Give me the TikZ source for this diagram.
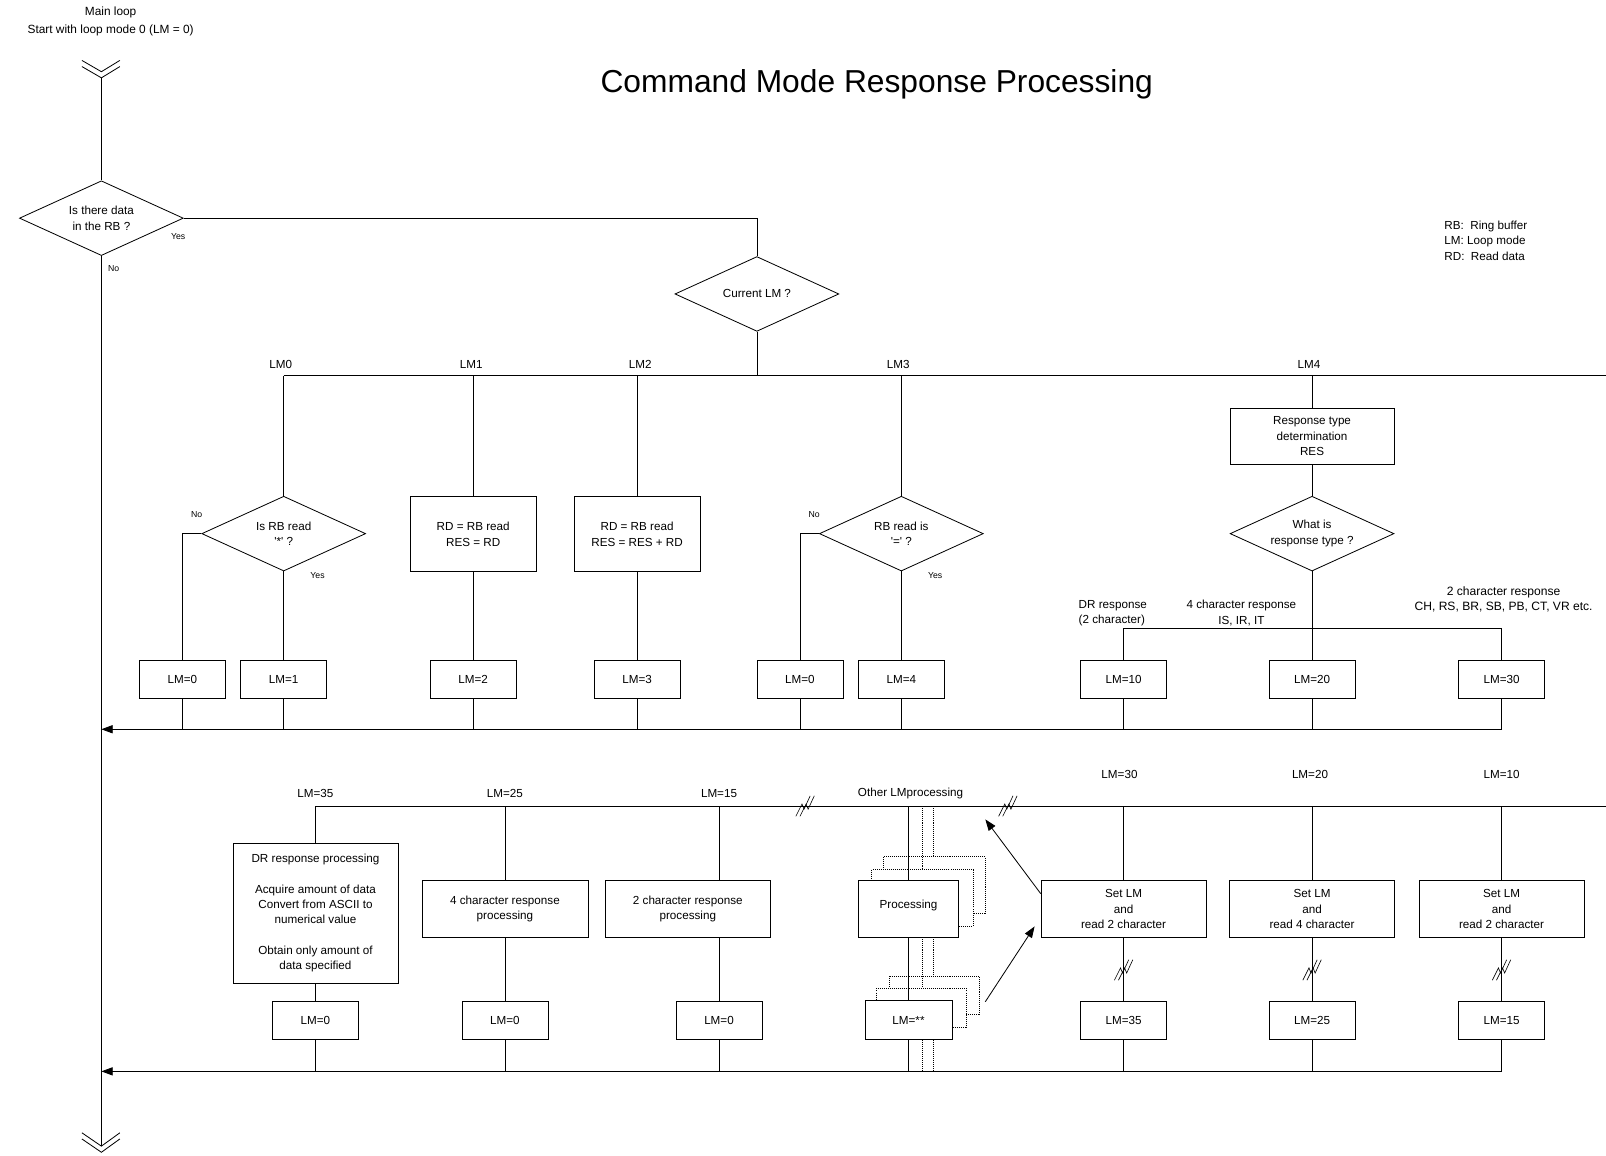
\documentclass[tikz,border=0pt]{standalone}
\usepackage{fontspec}
\setmainfont{Liberation Sans}
\usetikzlibrary{shapes.geometric,arrows.meta}
\begin{document}
\begin{tikzpicture}[x=1pt,y=-1pt,
  every node/.style={font=\fontsize{11.4}{15}\selectfont, inner sep=0pt},
  ln/.style={line width=0.8pt},
  box/.style={draw, line width=0.8pt, fill=white, align=center, inner sep=0pt},
  dec/.style={draw, diamond, aspect=2.2, minimum width=160pt, minimum height=73pt, line width=0.8pt, fill=white, align=center, inner sep=0pt},
  lmbox/.style={box, minimum width=84pt, minimum height=37pt},
  procbox/.style={box, minimum width=161pt, minimum height=55pt},
  small/.style={font=\fontsize{8.5}{10}\selectfont},
  dots/.style={line width=0.6pt, dash pattern=on 1pt off 1pt},
  arr/.style={-{Triangle[length=11pt,width=8pt]}},
  brk/.pic={
    \draw[line width=0.6pt] (-9,10) -- (-3,-2) -- (-1,3) -- (5,-10);
    \draw[line width=0.6pt] (-5,10) -- (1,-2) -- (3,3) -- (9,-10);
  }
]
\useasboundingbox (0,0) rectangle (1568,1128);

% title and notes
\node[font=\fontsize{31}{36}\selectfont] (title) at (856,82) {Command Mode Response Processing};
\node[font=\fontsize{11.6}{17}\selectfont, align=center] (start) at (108,21) {Main loop\\Start with loop mode 0 (LM = 0)};
\node[anchor=west, align=left, font=\fontsize{11.4}{15.5}\selectfont] (legend) at (1410,235) {RB:\ \ Ring buffer\\LM: Loop mode\\RD:\ \ Read data};

% chevrons and main line
\draw[ln] (80,59) -- (99,70) -- (117,59);
\draw[ln] (80,65) -- (99,76) -- (117,65);
\coordinate (chevA) at (99,76);
\draw[ln] (80,1106) -- (99,1119) -- (117,1106);
\draw[ln] (80,1112) -- (99,1125) -- (117,1112);
\coordinate (chevB) at (99,1119);

\node[dec] (d1) at (99,213) {Is there data\\in the RB ?};
\node[small] (d1yes) at (174,231) {Yes};
\node[small] (d1no) at (111,262) {No};
\draw[ln] (chevA) -- (d1.north);
\draw[ln] (d1.south) -- (chevB);

\node[dec] (cur) at (739,287) {Current LM ?};
\draw[ln] (d1.east) -| (cur.north);

% upper bus
\coordinate (b1L) at (277,367);
\coordinate (b1R) at (1568,367);
\draw[ln] (b1L) -- (b1R);
\draw[ln] (cur.south) -- (cur.south |- b1L);
\node (t0) at (274,356) {LM0};
\node (t1) at (460,356) {LM1};
\node (t2) at (625,356) {LM2};
\node (t3) at (877,356) {LM3};
\node (t4) at (1278,356) {LM4};

% LM0
\node[dec] (q0) at (277,521) {Is RB read\\\textquotesingle*\textquotesingle\ ?};
\node[small] (q0no) at (192,502) {No};
\node[small] (q0yes) at (310,562) {Yes};
\node[lmbox] (lm0a) at (178,663.5) {LM=0};
\node[lmbox] (lm1a) at (277,663.5) {LM=1};
\draw[ln] (b1L) -- (q0.north);
\draw[ln] (q0.west) -| (lm0a.north);
\draw[ln] (q0.south) -- (lm1a.north);

% LM1
\node[box, minimum width=123pt, minimum height=73pt] (rd1) at (462,521.5) {RD = RB read\\RES = RD};
\node[lmbox] (lm2) at (462,663.5) {LM=2};
\draw[ln] (rd1.north |- b1L) -- (rd1.north);
\draw[ln] (rd1.south) -- (lm2.north);

% LM2
\node[box, minimum width=123pt, minimum height=73pt] (rd2) at (622,521.5) {RD = RB read\\RES = RES + RD};
\node[lmbox] (lm3) at (622,663.5) {LM=3};
\draw[ln] (rd2.north |- b1L) -- (rd2.north);
\draw[ln] (rd2.south) -- (lm3.north);

% LM3
\node[dec] (q3) at (880,521) {RB read is\\\textquotesingle=\textquotesingle\ ?};
\node[small] (q3no) at (795,502) {No};
\node[small] (q3yes) at (913,562) {Yes};
\node[lmbox] (lm0b) at (781,663.5) {LM=0};
\node[lmbox] (lm4) at (880,663.5) {LM=4};
\draw[ln] (q3.north |- b1L) -- (q3.north);
\draw[ln] (q3.west) -| (lm0b.north);
\draw[ln] (q3.south) -- (lm4.north);

% LM4
\node[box, minimum width=160pt, minimum height=54pt] (rt) at (1281,426) {Response type\\determination\\RES};
\node[dec] (q4) at (1281,521) {What is\\response type ?};
\node[lmbox] (lm10) at (1097,663.5) {LM=10};
\node[lmbox] (lm20) at (1281,663.5) {LM=20};
\node[lmbox] (lm30) at (1466,663.5) {LM=30};
\coordinate (b2) at (1281,614);
\draw[ln] (rt.north |- b1L) -- (rt.north);
\draw[ln] (rt.south) -- (q4.north);
\draw[ln] (q4.south) -- (lm20.north);
\draw[ln] (lm10.north) |- (b2) -| (lm30.north);
\node[anchor=west, align=left] (drl) at (1053,598.5) {DR response\\(2 character)};
\node[align=center] (c4l) at (1212,598.5) {4 character response\\IS, IR, IT};
\node[align=center, font=\fontsize{11.8}{15}\selectfont] (c2l) at (1468,585.5) {2 character response\\CH, RS, BR, SB, PB, CT, VR etc.};

% return 1
\coordinate (r1) at (99,712);
\foreach \n in {lm0a,lm1a,lm2,lm3,lm0b,lm4,lm10,lm20,lm30}
  \draw[ln] (\n.south) -- (\n.south |- r1);
\draw[ln,arr] (lm30.south |- r1) -- (r1);

% lower bus
\coordinate (b3L) at (308,787);
\coordinate (b3R) at (1568,787);
\draw[ln] (b3L) -- (b3R);
\pic at (786,787) {brk};
\pic at (984,787) {brk};
\node (u35) at (308,775) {LM=35};
\node (u25) at (493,775) {LM=25};
\node (u15) at (702,775) {LM=15};
\node (uoth) at (889,775) {Other LMprocessing};
\node (u30) at (1093,756) {LM=30};
\node (u20) at (1279,756) {LM=20};
\node (u10) at (1466,756) {LM=10};

% DR
\node[box, minimum width=161pt, minimum height=137pt] (dr) at (308,891.5) {DR response processing\\[15pt]Acquire amount of data\\Convert from ASCII to\\numerical value\\[15pt]Obtain only amount of\\data specified};
\node[lmbox] (lm0c) at (308,996.5) {LM=0};
\draw[ln] (b3L) -- (dr.north);
\draw[ln] (dr.south) -- (lm0c.north);

% 4 char
\node[procbox, minimum width=162pt] (p4) at (493,887.5) {4 character response\\processing};
\node[lmbox] (lm0d) at (493,996.5) {LM=0};
\draw[ln] (p4.north |- b3L) -- (p4.north);
\draw[ln] (p4.south) -- (lm0d.north);

% 2 char
\coordinate (c15) at (702,787);
\node[procbox] (p2) at (671.5,887.5) {2 character response\\processing};
\node[lmbox] (lm0e) at (702,996.5) {LM=0};
\draw[ln] (c15) -- (c15 |- p2.north);
\draw[ln] (c15 |- p2.south) -- (lm0e.north);

% other processing (stacked)
\draw[dots] (911,787) -- (911,1046);
\draw[dots, fill=white] (862,836.5) rectangle (962,891.5);
\draw[dots, fill=white] (868,953) rectangle (956,990);
\draw[dots] (900,787) -- (900,1046);
\draw[dots, fill=white] (851,849) rectangle (950,904);
\draw[dots, fill=white] (856,965) rectangle (943,1003);
\coordinate (cot) at (887,787);
\node[box, minimum width=98pt, minimum height=55pt, text depth=9pt] (proc) at (887,887.5) {Processing};
\node[box, minimum width=85pt, minimum height=38pt] (lmx) at (887,996) {LM=**};
\draw[ln] (cot) -- (proc.north);
\draw[ln] (proc.south) -- (lmx.north);

% set LM boxes
\node[procbox] (s30) at (1097,887.5) {Set LM\\and\\read 2 character};
\node[procbox] (s20) at (1281,887.5) {Set LM\\and\\read 4 character};
\node[procbox] (s10) at (1466,887.5) {Set LM\\and\\read 2 character};
\node[lmbox] (lm35) at (1097,996.5) {LM=35};
\node[lmbox] (lm25) at (1281,996.5) {LM=25};
\node[lmbox] (lm15) at (1466,996.5) {LM=15};
\foreach \s/\l in {s30/lm35,s20/lm25,s10/lm15}{
  \draw[ln] (\s.north |- b3L) -- (\s.north);
  \draw[ln] (\s.south) -- (\l.north);
}
\pic at (1097,947) {brk};
\pic at (1281,947) {brk};
\pic at (1466,947) {brk};

% arrows between stacked processing and set LM
\coordinate (a1e) at (962,800);
\coordinate (a2s) at (962,978);
\draw[ln,arr] ([yshift=15pt]s30.west) -- (a1e);
\draw[ln,arr] (a2s) -- ([xshift=-6pt,yshift=-17pt]s30.west);

% return 2
\coordinate (r2) at (99,1046);
\foreach \n in {lm0c,lm0d,lm0e,lmx,lm35,lm25,lm15}
  \draw[ln] (\n.south) -- (\n.south |- r2);
\draw[ln,arr] (lm15.south |- r2) -- (r2);
\end{tikzpicture}
\end{document}
